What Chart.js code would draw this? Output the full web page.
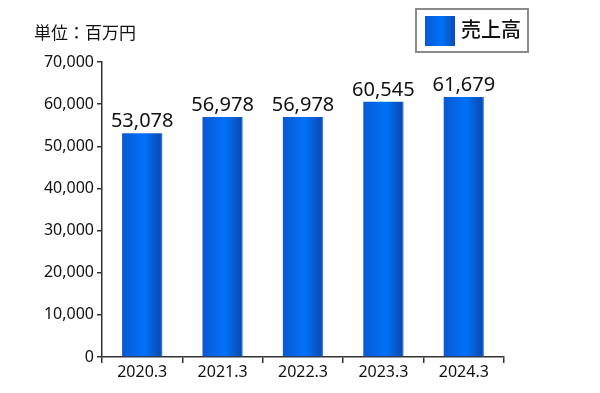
<!DOCTYPE html>
<html>
<head>
<meta charset="utf-8">
<script src="https://cdn.jsdelivr.net/npm/chart.js@4/dist/chart.umd.min.js"></script>
<style>
  html, body { margin: 0; padding: 0; background: #fff; }
  #wrap { position: relative; width: 600px; height: 393px; }
  canvas { position: absolute; left: 0; top: 0; }
  #unit { position: absolute; left: 34px; top: 20px; font: 17px "Noto Sans CJK JP", sans-serif; color: #111; line-height: 24px; }
  #legend { position: absolute; left: 415px; top: 8px; width: 110px; height: 41px; border: 2px solid #8a8a8a; box-sizing: content-box; }
  #legend .sw { position: absolute; left: 8px; top: 6px; width: 30px; height: 30px; background: linear-gradient(to right, #0a58d4, #0072f8 55%, #0a4cb6); }
  #legend .tx { position: absolute; left: 44px; top: 4px; font: 500 20px "Noto Sans CJK JP", sans-serif; color: #111; line-height: 30px; }
</style>
</head>
<body>
<div id="wrap">
  <canvas id="c" width="600" height="393"></canvas>
  <div id="unit">単位：百万円</div>
  <div id="legend"><div class="sw"></div><div class="tx">売上高</div></div>
</div>
<script>
const categories = ["2020.3", "2021.3", "2022.3", "2023.3", "2024.3"];
const salesValues = [53078, 56978, 56978, 60545, 61679];
const seriesName = "売上高";

const numFont = '"Noto Sans", sans-serif';

function barGradient(context) {
  const chart = context.chart;
  const xs = chart.scales.x;
  const area = chart.chartArea;
  if (!xs || !area || context.dataIndex === undefined) return '#0066ee';
  const cx = xs.getPixelForValue(context.dataIndex);
  const w = (area.right - area.left) / categories.length * 0.5;
  const x0 = cx - w / 2, x1 = cx + w / 2;
  const g = chart.ctx.createLinearGradient(x0, 0, x1, 0);
  g.addColorStop(0, '#0a58d4');
  g.addColorStop(0.55, '#0072f8');
  g.addColorStop(0.95, '#0a4cb6');
  g.addColorStop(1, '#4d90e8');
  return g;
}

const labelPlugin = {
  id: 'valueLabels',
  afterDatasetsDraw(chart) {
    const ctx = chart.ctx;
    ctx.save();
    ctx.font = '20px ' + numFont;
    ctx.fillStyle = '#111';
    ctx.textAlign = 'center';
    ctx.textBaseline = 'bottom';
    chart.getDatasetMeta(0).data.forEach((el, i) => {
      ctx.fillText(salesValues[i].toLocaleString('en-US'), el.x, el.y - 2);
    });
    ctx.restore();
  }
};

new Chart(document.getElementById('c'), {
  type: 'bar',
  data: {
    labels: categories,
    datasets: [{
      label: seriesName,
      data: salesValues,
      backgroundColor: barGradient,
      borderWidth: 0,
      barPercentage: 0.5,
      categoryPercentage: 1.0
    }]
  },
  options: {
    responsive: false,
    animation: false,
    devicePixelRatio: 1,
    layout: { padding: { left: 0, right: 96, top: 62, bottom: 0 } },
    plugins: { legend: { display: false }, tooltip: { enabled: false } },
    scales: {
      x: {
        offset: true,
        grid: { offset: true, drawOnChartArea: false, drawTicks: true, tickLength: 6, color: '#333', lineWidth: 1.5 },
        border: { color: '#333', width: 1.5 },
        ticks: { color: '#111', font: { family: numFont, size: 16 }, padding: 0 },
        afterFit(s) { s.height = 36; }
      },
      y: {
        min: 0, max: 70000,
        grid: { drawOnChartArea: false, drawTicks: true, tickLength: 5, color: '#333', lineWidth: 1.5 },
        border: { color: '#333', width: 1.5 },
        ticks: {
          stepSize: 10000,
          color: '#111',
          font: { family: numFont, size: 16 },
          padding: 3,
          callback: v => v.toLocaleString('en-US')
        },
        afterFit(s) { s.width = 102; }
      }
    }
  },
  plugins: [labelPlugin]
});
</script>
</body>
</html>
